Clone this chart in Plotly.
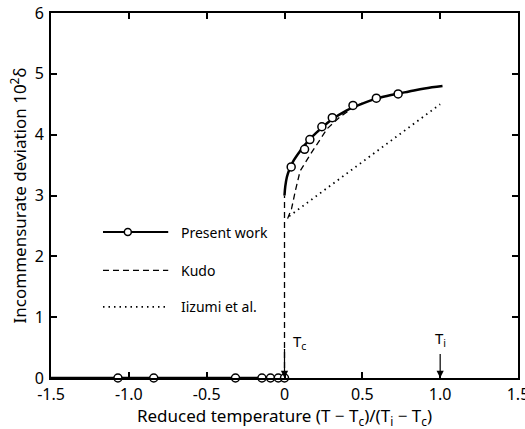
import plotly.graph_objects as go

# Present work: measured points
pw_low_x = [-1.07, -0.84, -0.315, -0.145, -0.09, -0.04, 0.0]
pw_low_y = [0, 0, 0, 0, 0, 0, 0]
pw_x = [0.043, 0.129, 0.163, 0.24, 0.307, 0.44, 0.59, 0.73]
pw_y = [3.47, 3.76, 3.92, 4.13, 4.28, 4.48, 4.60, 4.67]
# Present work: fitted curve
fit_x = [0.0, 0.005, 0.015, 0.03, 0.06, 0.1, 0.15, 0.2, 0.3, 0.4, 0.5, 0.6, 0.7, 0.8, 0.9, 1.015]
fit_y = [3.0, 3.15, 3.3, 3.42, 3.58, 3.73, 3.89, 4.02, 4.24, 4.40, 4.51, 4.60, 4.66, 4.71, 4.76, 4.80]
base_x = [-1.5, 0.0]
base_y = [0, 0]
# Kudo
kudo_x = [0.0, 0.0, None, 0.02, 0.045, 0.07, 0.10, 0.167, 0.275, 0.36, 0.44, 0.5]
kudo_y = [0.0, 3.0, None, 2.62, 2.78, 3.08, 3.40, 3.68, 4.10, 4.30, 4.44, 4.52]
# Iizumi et al.
iiz_x = [0.03, 1.0]
iiz_y = [2.66, 4.5]

x_ticks = [-1.5, -1.0, -0.5, 0, 0.5, 1.0, 1.5]
x_labels = ["-1.5", "-1.0", "-0.5", "0", "0.5", "1.0", "1.5"]
y_ticks = [0, 1, 2, 3, 4, 5, 6]

FONT = "Noto Sans"
fig = go.Figure()
fig.add_trace(go.Scatter(x=base_x, y=base_y, mode="lines", line=dict(color="black", width=2.5),
                         showlegend=False, cliponaxis=False))
fig.add_trace(go.Scatter(x=kudo_x, y=kudo_y, mode="lines", line=dict(color="black", width=1.3, dash="6px,4px"),
                         showlegend=False))
fig.add_trace(go.Scatter(x=iiz_x, y=iiz_y, mode="lines", line=dict(color="black", width=1.8, dash="1.5px,4px"),
                         showlegend=False))
fig.add_trace(go.Scatter(x=fit_x, y=fit_y, mode="lines", line=dict(color="black", width=2.5, shape="spline"),
                         showlegend=False))
fig.add_trace(go.Scatter(x=pw_x + pw_low_x, y=pw_y + pw_low_y, mode="markers", cliponaxis=False,
                         marker=dict(symbol="circle", size=8, color="white", line=dict(color="black", width=1.5)),
                         showlegend=False))

# Manual legend (data coordinates)
leg_x0, leg_x1, leg_tx = -1.166, -0.747, -0.68
leg_y = [2.40, 1.77, 1.17]
leg_names = ["Present work", "Kudo", "Iizumi et al."]
fig.add_trace(go.Scatter(x=[leg_x0, leg_x1], y=[leg_y[0]] * 2, mode="lines",
                         line=dict(color="black", width=2), showlegend=False))
fig.add_trace(go.Scatter(x=[(leg_x0 + leg_x1) / 2 - 0.05], y=[leg_y[0]], mode="markers",
                         marker=dict(symbol="circle", size=7, color="white", line=dict(color="black", width=1.5)),
                         showlegend=False))
fig.add_trace(go.Scatter(x=[leg_x0, leg_x1], y=[leg_y[1]] * 2, mode="lines",
                         line=dict(color="black", width=1.3, dash="6px,4px"), showlegend=False))
fig.add_trace(go.Scatter(x=[leg_x0, leg_x1], y=[leg_y[2]] * 2, mode="lines",
                         line=dict(color="black", width=1.8, dash="1.5px,4px"), showlegend=False))
for name, yy in zip(leg_names, leg_y):
    fig.add_annotation(x=leg_tx, y=yy, text=name, showarrow=False, xanchor="left", yanchor="middle",
                       font=dict(family=FONT, size=14, color="black"))

# Tc and Ti arrows
fig.add_annotation(x=0, y=0, ax=0, ay=0.5, xref="x", yref="y", axref="x", ayref="y",
                   showarrow=True, arrowhead=2, arrowsize=1.2, arrowwidth=1.2, arrowcolor="black", text="")
fig.add_annotation(x=0.04, y=0.6, text="T<sub>c</sub>", showarrow=False, xanchor="left", yanchor="middle",
                   font=dict(family=FONT, size=15, color="black"))
fig.add_annotation(x=1.0, y=0, ax=1.0, ay=0.42, xref="x", yref="y", axref="x", ayref="y",
                   showarrow=True, arrowhead=2, arrowsize=1.2, arrowwidth=1.2, arrowcolor="black", text="")
fig.add_annotation(x=1.0, y=0.64, text="T<sub>i</sub>", showarrow=False, xanchor="center", yanchor="middle",
                   font=dict(family=FONT, size=15, color="black"))

axis_common = dict(showgrid=False, zeroline=False, showline=True, linecolor="black", linewidth=2,
                   mirror="ticks", ticks="inside", ticklen=6, tickwidth=1.5, tickcolor="black",
                   ticklabeloverflow="allow", automargin=False,
                   tickfont=dict(family=FONT, size=16, color="black"))
fig.update_xaxes(range=[-1.5, 1.5], tickvals=x_ticks, ticktext=x_labels, ticklabelstandoff=1,
                 title=dict(text="Reduced temperature (T − T<sub>c</sub>)/(T<sub>i</sub> − T<sub>c</sub>)",
                            font=dict(family=FONT, size=17, color="black"), standoff=2),
                 **axis_common)
fig.update_yaxes(range=[0, 6], tickvals=y_ticks, ticklabelstandoff=2,
                 title=dict(text="Incommensurate deviation 10<sup>2</sup>δ",
                            font=dict(family=FONT, size=17, color="black"), standoff=4),
                 **axis_common)
fig.update_layout(width=525, height=429, margin=dict(l=51, r=7, t=13, b=51),
                  plot_bgcolor="white", paper_bgcolor="white", showlegend=False)
fig.write_html("out.html")
